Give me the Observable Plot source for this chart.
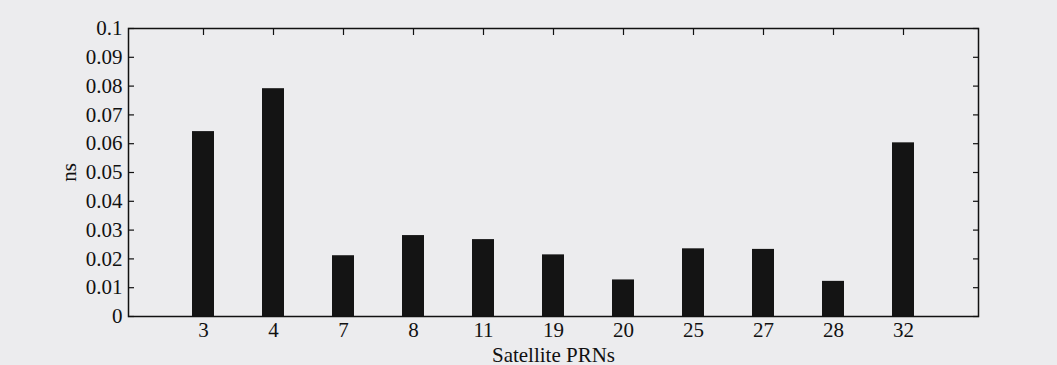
<!DOCTYPE html>
<html>
<head>
<meta charset="utf-8">
<script src="https://cdn.jsdelivr.net/npm/d3@7"></script>
<script src="https://cdn.jsdelivr.net/npm/@observablehq/plot@0.6"></script>
<style>
  html, body { margin: 0; padding: 0; background: #ececee; }
</style>
</head>
<body>
<div id="chart"></div>
<script>
const prns = ["3", "4", "7", "8", "11", "19", "20", "25", "27", "28", "32"];
const values = [0.0642, 0.0791, 0.0211, 0.0281, 0.0267, 0.0214, 0.0127, 0.0235, 0.0233, 0.0122, 0.0603];
const yTicks = [0, 0.01, 0.02, 0.03, 0.04, 0.05, 0.06, 0.07, 0.08, 0.09, 0.1];
const yTickLabels = ["0", "0.01", "0.02", "0.03", "0.04", "0.05", "0.06", "0.07", "0.08", "0.09", "0.1"];
const xTitle = "Satellite PRNs";
const yTitle = "ns";

const data = prns.map((p, i) => ({prn: p, value: values[i]}));
const yLabel = new Map(yTicks.map((t, i) => [t, yTickLabels[i]]));

const chart = Plot.plot({
  width: 1057,
  height: 365,
  marginLeft: 128,
  marginRight: 79,
  marginTop: 28,
  marginBottom: 49,
  style: {background: "#ececee", fontFamily: "'Liberation Serif', 'DejaVu Serif', serif", fontSize: "21px", color: "#111"},
  x: {domain: prns, paddingInner: 0.69, paddingOuter: 0.86},
  y: {domain: [0, 0.1]},
  marks: [
    Plot.barY(data, {x: "prn", y: "value", fill: "#141414"}),
    Plot.frame({stroke: "#111", strokeWidth: 1.5}),
    // inward tick marks
    Plot.axisY({ticks: yTicks, anchor: "left", tickSize: -6, tickFormat: () => "", label: null, strokeWidth: 1.2}),
    Plot.axisY({ticks: yTicks, anchor: "right", tickSize: -6, tickFormat: () => "", label: null, strokeWidth: 1.2}),
    Plot.axisX({anchor: "top", tickSize: -6, tickFormat: () => "", label: null, strokeWidth: 1.2}),
    // labels
    Plot.axisY({ticks: yTicks, anchor: "left", tickSize: 0, tickPadding: 6, tickFormat: d => yLabel.get(d),
      label: yTitle, labelAnchor: "center", labelArrow: "none", labelOffset: 67, fontSize: 21}),
    Plot.axisX({anchor: "bottom", tickSize: 0, tickPadding: 6, label: xTitle, labelAnchor: "center", labelArrow: "none", labelOffset: 45, fontSize: 21})
  ]
});
document.getElementById("chart").appendChild(chart);
</script>
</body>
</html>
